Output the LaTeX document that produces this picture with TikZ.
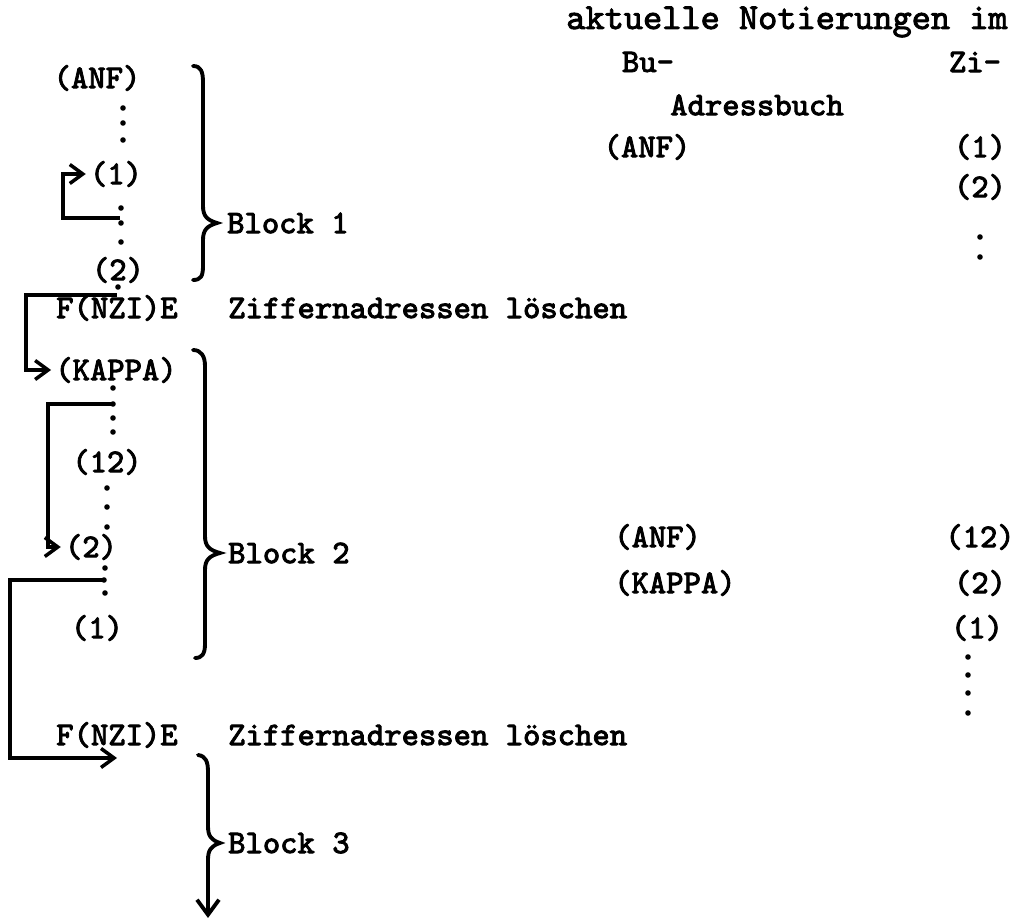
\documentclass[tikz,border=0pt]{standalone}
\usepackage{fontspec}
\setmonofont{Latin Modern Mono}[FakeBold=2.5]
\usetikzlibrary{arrows.meta}

\tikzset{
  txt/.style={font=\ttfamily\fontsize{9.4}{11}\selectfont, inner sep=1pt},
  flow/.style={line width=1pt, -{Straight Barb[length=1.3mm,width=1.9mm]}},
  brc/.style={line width=1.1pt, line cap=round},
}

\begin{document}
\begin{tikzpicture}[x=0.1mm, y=-0.1mm]
\useasboundingbox (0,0) rectangle (1020,923);

% program, left column
\node[txt] (anfL) at (97,78) {(ANF)};
\node[txt] (oneL) at (116,174) {(1)};
\node[txt] (twoL) at (118,270) {(2)};
\node[txt] (fnziA) at (117,308) {F(NZI)E};
\node[txt, anchor=west] (delA) at (224,308) {Ziffernadressen löschen};
\node[txt] (kappa) at (116,370) {(KAPPA)};
\node[txt] (twelve) at (107,462) {(12)};
\node[txt] (twoM) at (91,547) {(2)};
\node[txt] (oneM) at (97,628) {(1)};
\node[txt] (fnziB) at (117,735) {F(NZI)E};
\node[txt, anchor=west] (delB) at (224,735) {Ziffernadressen löschen};

% dots between the lines
\foreach \x/\y in {123/108, 123/123, 123/140, 121/208, 121/223, 121/242, 118/287,
                   113/388, 113/404, 113/418, 113/432, 107/488, 107/507, 107/527,
                   105/568, 104/580, 105/593,
                   980/237, 980/257, 968/657, 968/675, 968/693, 968/713}
  \fill (\x,\y) circle (0.28mm);

% jumps
\coordinate (j1) at (120,218);
\coordinate (j2) at (117,295);
\coordinate (j3) at (113,404);
\coordinate (j4) at (104,580);
\coordinate (in3) at (117,758);
\draw[flow] (j1) -- (63,218) |- (oneL.west);
\draw[flow] (j2) -- (26,295) |- (kappa.west);
\draw[flow] (j3) -- (48,404) |- (twoM.west);
\draw[flow] (j4) -- (10,580) |- (in3);

% block braces
\draw[brc] (193,66) .. controls (201,66) and (203,72) .. (203,82) -- (203,206)
  .. controls (203,216) and (207,220) .. (217,223) .. controls (207,226) and (203,230) .. (203,240)
  -- (203,266) .. controls (203,276) and (201,280) .. (193,280);
\draw[brc] (193,350) .. controls (201,350) and (205,356) .. (205,366) -- (205,536)
  .. controls (205,546) and (209,550) .. (220,553) .. controls (209,556) and (205,560) .. (205,570)
  -- (205,644) .. controls (205,654) and (202,658) .. (195,658);
\coordinate (end3) at (208,918);
\draw[brc, -{Straight Barb[length=1.5mm,width=2.2mm]}] (198,755) .. controls (206,756) and (208,762) .. (208,772)
  -- (208,826) .. controls (208,836) and (211,840) .. (220,843) .. controls (211,846) and (208,850) .. (208,860)
  -- (end3);
\node[txt, anchor=west] (blk1) at (223,223) {Block 1};
\node[txt, anchor=west] (blk2) at (224,553) {Block 2};
\node[txt, anchor=west] (blk3) at (224,843) {Block 3};

% address book, right column
\node[txt, font=\ttfamily\fontsize{10.4}{12}\selectfont] (head) at (787,22) {aktuelle Notierungen im};
\node[txt] (bu) at (648,62) {Bu-};
\node[txt] (zi) at (975,62) {Zi-};
\node[txt] (adr) at (757,105) {Adressbuch};
\node[txt] (buA) at (647,147) {(ANF)};
\node[txt] (ziA) at (980,147) {(1)};
\node[txt] (ziB) at (980,187) {(2)};
\node[txt, anchor=west] (buC) at (610,537) {(ANF)};
\node[txt, anchor=west] (buD) at (610,583) {(KAPPA)};
\node[txt] (ziC) at (980,537) {(12)};
\node[txt] (ziD) at (980,583) {(2)};
\node[txt] (ziE) at (977,628) {(1)};
\end{tikzpicture}
\end{document}
